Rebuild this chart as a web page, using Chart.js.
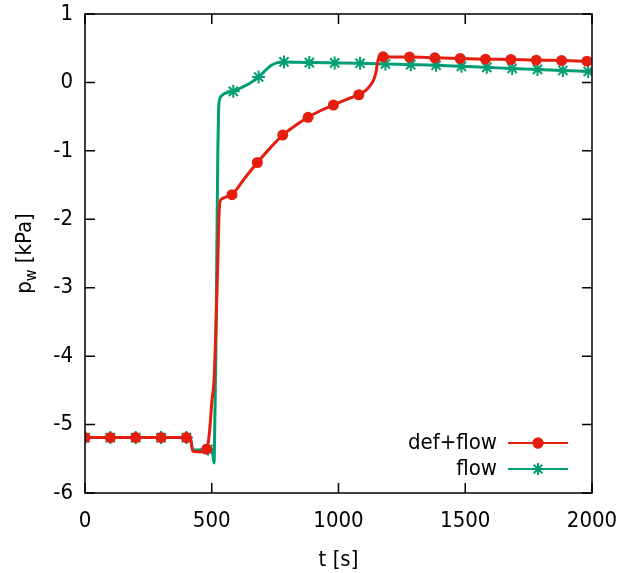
<!DOCTYPE html>
<html><head><meta charset="utf-8">
<script src="https://cdn.jsdelivr.net/npm/chart.js@4/dist/chart.umd.min.js"></script>
<style>html,body{margin:0;padding:0;background:#fff;}#wrap{width:632px;height:573px;}</style>
</head><body><div id="wrap"><canvas id="c" width="632" height="573"></canvas></div>
<script>
const seriesNames = ['def+flow', 'flow'];
const xTitle = 't [s]';
const yTitleMain = 'p', yTitleSub = 'w', yTitleUnit = ' [kPa]';
const xTicks = [0, 500, 1000, 1500, 2000];
const yTicks = [-6, -5, -4, -3, -2, -1, 0, 1];

const tDefFlow = [0,100,200,300,400,415,425,465,480,490,501,509,518,524,528,532,540,560,580,630,680,730,780,830,880,930,980,1030,1080,1110,1130,1140,1148,1153,1158,1165,1176,1280,1380,1480,1580,1680,1780,1880,1980,2000];
const pDefFlow = [-5.19,-5.19,-5.19,-5.19,-5.19,-5.19,-5.39,-5.40,-5.36,-5.15,-4.64,-4.35,-3.4,-2.6,-2.0,-1.75,-1.70,-1.67,-1.64,-1.40,-1.17,-0.96,-0.77,-0.63,-0.51,-0.41,-0.33,-0.25,-0.18,-0.11,-0.02,0.05,0.15,0.27,0.35,0.385,0.375,0.37,0.36,0.35,0.34,0.335,0.325,0.32,0.31,0.31];
const markDefFlow = [0,100,200,300,400,480,580,680,780,880,980,1080,1176,1280,1380,1480,1580,1680,1780,1880,1980];

const tFlow = [0,100,200,300,400,415,425,485,495,503,509,512,516,520,524,527,531,540,560,585,620,655,685,710,735,760,785,885,985,1085,1185,1285,1385,1485,1585,1685,1785,1885,1985,2000];
const pFlow = [-5.19,-5.19,-5.19,-5.19,-5.19,-5.19,-5.37,-5.36,-5.33,-5.40,-5.56,-5.0,-4.0,-2.5,-1.0,-0.40,-0.25,-0.19,-0.15,-0.13,-0.07,0.0,0.08,0.17,0.25,0.29,0.30,0.29,0.285,0.28,0.27,0.26,0.25,0.235,0.22,0.205,0.19,0.175,0.16,0.155];
const markFlow = [0,100,200,300,400,485,585,685,785,885,985,1085,1185,1285,1385,1485,1585,1685,1785,1885,1985];

const RED = '#e51e10', GREEN = '#009e73';
const FONT = '"DejaVu Sans Condensed", "DejaVu Sans", sans-serif';
const FS = 22;

function toPts(ts, ps){ return ts.map((t,i)=>({x:t, y:ps[i]})); }
function radiusFn(marks, r){ const s = new Set(marks); return ctx => (ctx.raw && s.has(ctx.raw.x)) ? r : 0; }

const datasets = [
  {label: seriesNames[0], data: toPts(tDefFlow, pDefFlow), borderColor: RED, backgroundColor: RED,
   borderWidth: 3, pointStyle: 'circle', pointRadius: radiusFn(markDefFlow, 5.5), pointBorderWidth: 0,
   pointBackgroundColor: RED, cubicInterpolationMode: 'monotone', legendRadius: 5.5, legendBorder: 0},
  {label: seriesNames[1], data: toPts(tFlow, pFlow), borderColor: GREEN, backgroundColor: GREEN,
   borderWidth: 3, pointStyle: 'star', pointRadius: radiusFn(markFlow, 6.5), pointBorderWidth: 2,
   pointBorderColor: GREEN, cubicInterpolationMode: 'monotone', legendRadius: 6, legendBorder: 2}
];

const framePlugin = {
  id: 'frame',
  afterDraw(chart){
    const ctx = chart.ctx, a = chart.chartArea, xs = chart.scales.x, ys = chart.scales.y;
    ctx.save();
    ctx.strokeStyle = '#000'; ctx.lineWidth = 1.5;
    ctx.strokeRect(a.left, a.top, a.right - a.left, a.bottom - a.top);
    const TL = 10;
    ctx.beginPath();
    xTicks.forEach(v => { const px = xs.getPixelForValue(v);
      ctx.moveTo(px, a.bottom); ctx.lineTo(px, a.bottom - TL);
      ctx.moveTo(px, a.top); ctx.lineTo(px, a.top + TL); });
    yTicks.forEach(v => { const py = ys.getPixelForValue(v);
      ctx.moveTo(a.left, py); ctx.lineTo(a.left + TL, py);
      ctx.moveTo(a.right, py); ctx.lineTo(a.right - TL, py); });
    ctx.stroke();
    ctx.fillStyle = '#000';
    ctx.font = FS + 'px ' + FONT;
    ctx.textAlign = 'center'; ctx.textBaseline = 'middle';
    ctx.fillText(xTitle, (a.left + a.right)/2, 560);
    ctx.save();
    ctx.translate(24, (a.top + a.bottom)/2);
    ctx.rotate(-Math.PI/2);
    ctx.textBaseline = 'alphabetic'; ctx.textAlign = 'left';
    const fMain = FS + 'px ' + FONT, fSub = '16px ' + FONT;
    ctx.font = fMain; const w1 = ctx.measureText(yTitleMain).width, w3 = ctx.measureText(yTitleUnit).width;
    ctx.font = fSub; const w2 = ctx.measureText(yTitleSub).width;
    let x0 = -(w1 + w2 + w3)/2; const base = 7;
    ctx.font = fMain; ctx.fillText(yTitleMain, x0, base); x0 += w1;
    ctx.font = fSub; ctx.fillText(yTitleSub, x0, base + 5); x0 += w2;
    ctx.font = fMain; ctx.fillText(yTitleUnit, x0, base);
    ctx.restore();
    const ly = [443, 469];
    chart.data.datasets.forEach((ds, i) => {
      const y = ly[i];
      ctx.font = FS + 'px ' + FONT; ctx.textAlign = 'right'; ctx.textBaseline = 'middle'; ctx.fillStyle = '#000';
      ctx.fillText(ds.label, 497, y);
      ctx.strokeStyle = ds.borderColor; ctx.lineWidth = 2;
      ctx.beginPath(); ctx.moveTo(508, y); ctx.lineTo(568, y); ctx.stroke();
      ctx.fillStyle = ds.borderColor; ctx.strokeStyle = ds.borderColor;
      Chart.helpers.drawPoint(ctx, {pointStyle: ds.pointStyle, radius: ds.legendRadius, borderWidth: ds.legendBorder, rotation: 0}, 538, y);
      if (ds.pointStyle === 'circle') { ctx.beginPath(); ctx.arc(538, y, ds.legendRadius, 0, Math.PI*2); ctx.fill(); }
    });
    ctx.restore();
  }
};

new Chart(document.getElementById('c'), {
  type: 'line',
  data: { datasets },
  options: {
    responsive: false, animation: false, devicePixelRatio: 1,
    layout: { padding: { top: 14, right: 40, left: 0, bottom: 0 } },
    plugins: { legend: { display: false }, tooltip: { enabled: false } },
    scales: {
      x: { type: 'linear', min: 0, max: 2000,
           afterBuildTicks: s => { s.ticks = xTicks.map(v => ({value: v})); },
           afterFit: s => { s.height = 80; s.paddingLeft = 0; s.paddingRight = 0; },
           grid: { display: false, drawTicks: false }, border: { display: false },
           ticks: { color: '#000', font: { family: FONT, size: FS }, padding: 15, maxRotation: 0,
                    callback: v => String(v) } },
      y: { type: 'linear', min: -6, max: 1,
           afterBuildTicks: s => { s.ticks = yTicks.map(v => ({value: v})); },
           afterFit: s => { s.width = 85; s.paddingTop = 0; s.paddingBottom = 0; },
           grid: { display: false, drawTicks: false }, border: { display: false },
           ticks: { color: '#000', font: { family: FONT, size: FS }, padding: 12,
                    callback: v => String(v) } }
    }
  },
  plugins: [framePlugin]
});
</script></body></html>
